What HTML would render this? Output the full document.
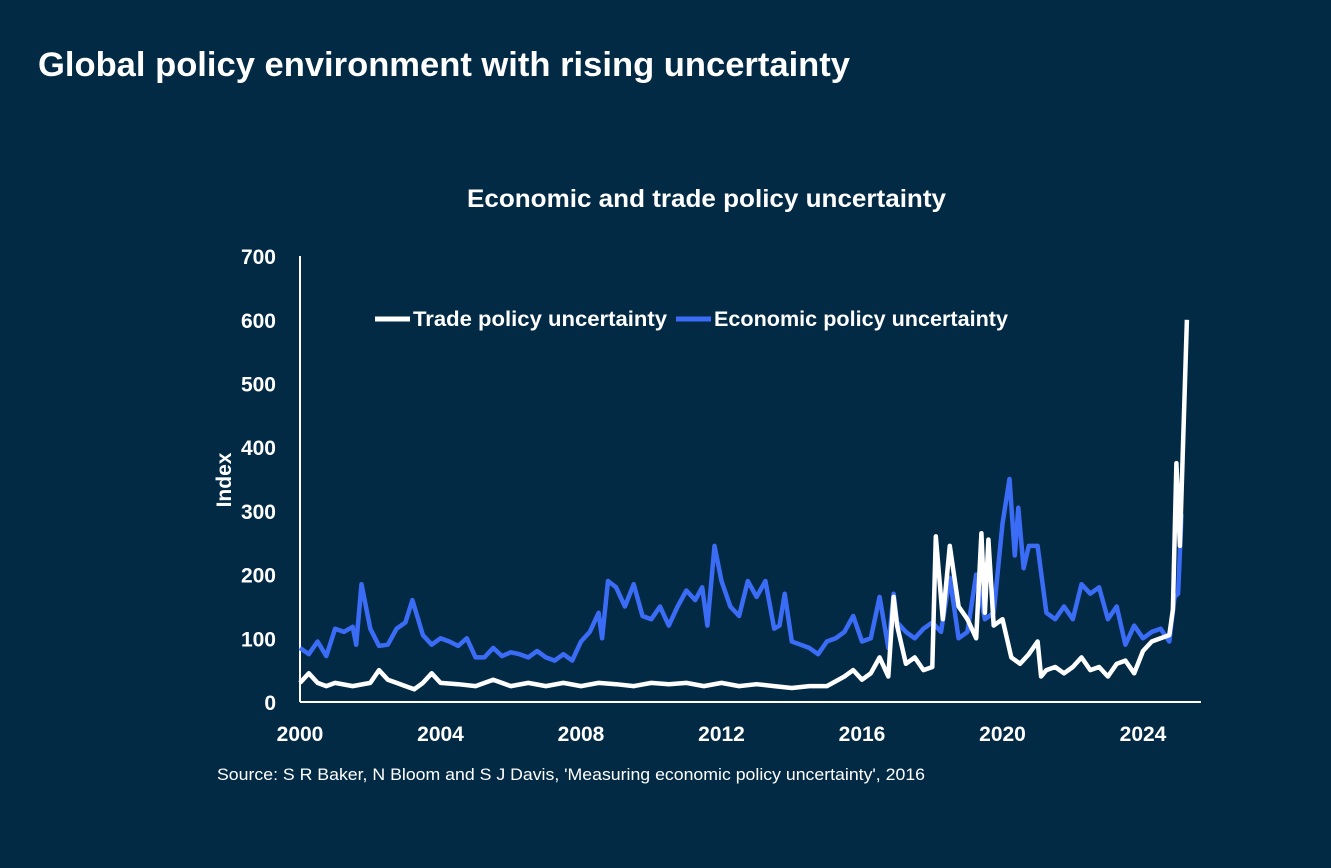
<!DOCTYPE html>
<html><head><meta charset="utf-8"><style>
html,body{margin:0;padding:0;background:#022a45;}
body{width:1331px;height:863px;overflow:hidden;font-family:"Liberation Sans",sans-serif;}
</style></head><body>
<svg width="1331" height="863" xmlns="http://www.w3.org/2000/svg" font-family="Liberation Sans, sans-serif">
<rect width="1331" height="863" fill="#022a45"/>
<text x="38" y="76" fill="#fff" font-size="34.5" font-weight="bold" textLength="812" lengthAdjust="spacingAndGlyphs">Global policy environment with rising uncertainty</text>
<text x="467" y="207" fill="#fff" font-size="25" font-weight="bold" textLength="479" lengthAdjust="spacingAndGlyphs">Economic and trade policy uncertainty</text>
<text transform="translate(231,480) rotate(-90)" fill="#fff" font-size="21" font-weight="bold" text-anchor="middle">Index</text>
<g id="yticks"></g><g id="xticks"></g>
<line x1="300" y1="256" x2="300" y2="702" stroke="#fff" stroke-width="2"/>
<line x1="300" y1="702" x2="1201" y2="702" stroke="#fff" stroke-width="2"/>
<g id="series"></g>
<g>
<line x1="375" y1="319" x2="410" y2="319" stroke="#fff" stroke-width="5"/>
<text x="413" y="326" fill="#fff" font-size="21" font-weight="bold" textLength="254" lengthAdjust="spacingAndGlyphs">Trade policy uncertainty</text>
<line x1="676" y1="319" x2="711" y2="319" stroke="#3b6cf6" stroke-width="5"/>
<text x="714" y="326" fill="#fff" font-size="21" font-weight="bold" textLength="294" lengthAdjust="spacingAndGlyphs">Economic policy uncertainty</text>
</g>
<text x="217" y="780" fill="#fff" font-size="17" textLength="708" lengthAdjust="spacingAndGlyphs">Source: S R Baker, N Bloom and S J Davis, 'Measuring economic policy uncertainty', 2016</text>
</svg>
<script>
const yTicks=[0,100,200,300,400,500,600,700];
const xTicks=[2000,2004,2008,2012,2016,2020,2024];
const epuDates=[2000,2000.25,2000.5,2000.75,2001,2001.25,2001.5,2001.6,2001.75,2002,2002.25,2002.5,2002.75,2003,2003.2,2003.5,2003.75,2004,2004.25,2004.5,2004.75,2005,2005.25,2005.5,2005.75,2006,2006.25,2006.5,2006.75,2007,2007.25,2007.5,2007.75,2008,2008.25,2008.5,2008.6,2008.77,2009,2009.25,2009.5,2009.75,2010,2010.25,2010.5,2010.75,2011,2011.25,2011.45,2011.6,2011.8,2012,2012.25,2012.5,2012.75,2013,2013.25,2013.5,2013.65,2013.8,2014,2014.25,2014.5,2014.75,2015,2015.25,2015.5,2015.75,2016,2016.25,2016.5,2016.75,2016.9,2017,2017.25,2017.5,2017.75,2018,2018.25,2018.5,2018.75,2019,2019.25,2019.5,2019.75,2020,2020.2,2020.35,2020.45,2020.6,2020.75,2021,2021.25,2021.5,2021.75,2022,2022.25,2022.5,2022.75,2023,2023.25,2023.5,2023.75,2024,2024.25,2024.5,2024.75,2024.9,2025,2025.1,2025.25];
const epuValues=[85,75,95,72,115,110,118,90,185,115,88,90,115,125,160,105,90,100,95,88,100,70,70,85,72,78,75,70,80,70,65,75,65,95,110,140,100,190,180,150,185,135,130,150,120,150,175,160,180,120,245,190,150,135,190,165,190,115,120,170,95,90,85,75,95,100,110,135,95,100,165,85,170,125,110,100,115,125,110,195,100,110,200,130,140,280,350,230,305,210,245,245,140,130,150,130,185,170,180,130,150,90,120,100,110,115,95,165,170,295];
const tpuDates=[2000,2000.25,2000.5,2000.75,2001,2001.5,2002,2002.25,2002.5,2002.75,2003,2003.25,2003.5,2003.75,2004,2004.5,2005,2005.5,2006,2006.5,2007,2007.5,2008,2008.5,2009,2009.5,2010,2010.5,2011,2011.5,2012,2012.5,2013,2013.5,2014,2014.5,2015,2015.5,2015.75,2016,2016.25,2016.5,2016.75,2016.9,2017,2017.25,2017.5,2017.75,2018,2018.1,2018.3,2018.5,2018.75,2019,2019.25,2019.4,2019.5,2019.6,2019.75,2020,2020.25,2020.5,2020.75,2021,2021.1,2021.25,2021.5,2021.75,2022,2022.25,2022.5,2022.75,2023,2023.25,2023.5,2023.75,2024,2024.25,2024.5,2024.75,2024.85,2024.95,2025.05,2025.25];
const tpuValues=[30,45,30,25,30,25,30,50,35,30,25,20,30,45,30,28,25,35,25,30,25,30,25,30,28,25,30,28,30,25,30,25,28,25,22,25,25,40,50,35,45,70,40,165,120,60,70,50,55,260,130,245,150,130,100,265,140,255,120,130,70,60,75,95,40,50,55,45,55,70,50,55,40,60,65,45,80,95,100,105,145,375,245,600];
const X=y=>300+(y-2000)*35.125, Y=v=>702-v*0.637;
const NS="http://www.w3.org/2000/svg";
const yg=document.getElementById('yticks');
yTicks.forEach(t=>{const e=document.createElementNS(NS,'text');e.setAttribute('x',276);e.setAttribute('y',Y(t)+8);e.setAttribute('fill','#fff');e.setAttribute('font-size','21');e.setAttribute('font-weight','bold');e.setAttribute('text-anchor','end');e.textContent=t;


yg.appendChild(e);});
const xg=document.getElementById('xticks');
xTicks.forEach(t=>{const e=document.createElementNS(NS,'text');e.setAttribute('x',X(t));e.setAttribute('y',741);e.setAttribute('fill','#fff');e.setAttribute('font-size','21');e.setAttribute('font-weight','bold');e.setAttribute('text-anchor','middle');e.textContent=t;


xg.appendChild(e);});
const sg=document.getElementById('series');
function line(d,v,c,name){const p=document.createElementNS(NS,'path');p.setAttribute('d',d.map((x,i)=>(i?'L':'M')+X(x).toFixed(1)+','+Y(v[i]).toFixed(1)).join(''));p.setAttribute('fill','none');p.setAttribute('stroke',c);p.setAttribute('stroke-width','4.5');p.setAttribute('stroke-linejoin','round');


sg.appendChild(p);}
line(epuDates,epuValues,'#3b6cf6','economic-policy-line');
line(tpuDates,tpuValues,'#ffffff','trade-policy-line');
</script>
</body></html>
